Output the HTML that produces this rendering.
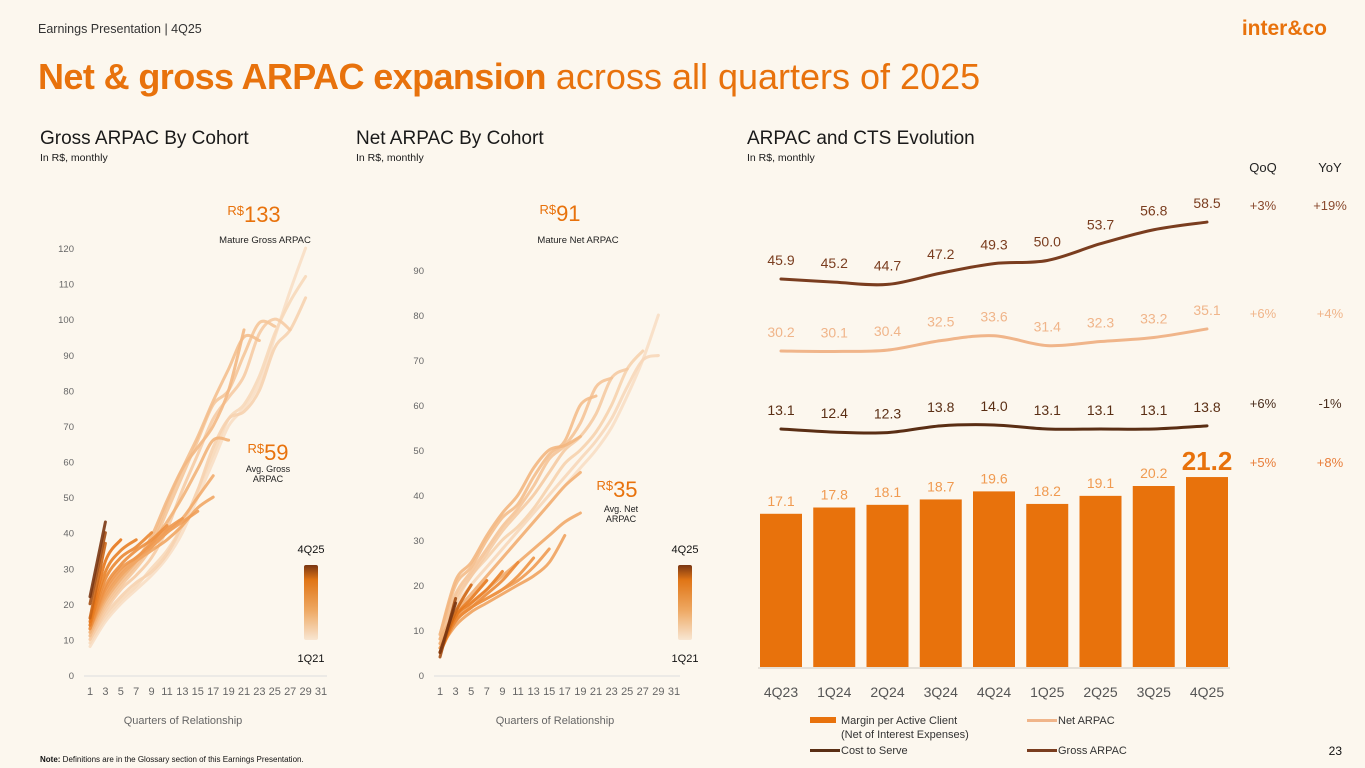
<!DOCTYPE html>
<html><head><meta charset="utf-8">
<style>
html,body{margin:0;padding:0;background:#fcf7ee;}
svg{display:block;font-family:"Liberation Sans",sans-serif;}
</style></head>
<body>
<svg id="page" width="1365" height="768" viewBox="0 0 1365 768" xmlns="http://www.w3.org/2000/svg">
<rect width="1365" height="768" fill="#fcf7ee"/>
<defs>
<linearGradient id="cg" x1="0" y1="0" x2="0" y2="1">
<stop offset="0" stop-color="#7a3612"/><stop offset="0.2" stop-color="#e07516"/><stop offset="0.6" stop-color="#eea862"/><stop offset="1" stop-color="#f8e6d2"/>
</linearGradient>
</defs>
<text x="38" y="33" font-size="12.5" fill="#333">Earnings Presentation | 4Q25</text>
<text x="1327" y="35" font-size="21" font-weight="bold" fill="#e8720c" text-anchor="end">inter&amp;co</text>
<text x="38" y="89" font-size="36" fill="#e8720c"><tspan font-weight="bold" letter-spacing="-0.6">Net &amp; gross ARPAC expansion</tspan> across all quarters of 2025</text>

<text x="40" y="144" font-size="19" fill="#1a1a1a">Gross ARPAC By Cohort</text>
<text x="40" y="161" font-size="10.5" fill="#1a1a1a">In R$, monthly</text>
<text x="356" y="144" font-size="19" fill="#1a1a1a">Net ARPAC By Cohort</text>
<text x="356" y="161" font-size="10.5" fill="#1a1a1a">In R$, monthly</text>
<text x="747" y="144" font-size="19" fill="#1a1a1a">ARPAC and CTS Evolution</text>
<text x="747" y="161" font-size="10.5" fill="#1a1a1a">In R$, monthly</text>

<g id="gross"></g>
<g id="net"></g>
<g id="evo"></g>

<text x="254" y="222" font-size="22" fill="#e8720c" text-anchor="middle"><tspan font-size="13" dy="-7">R$</tspan><tspan dy="7">133</tspan></text>
<text x="265" y="243" font-size="9.5" fill="#222" text-anchor="middle">Mature Gross ARPAC</text>
<text x="268" y="460" font-size="22" fill="#e8720c" text-anchor="middle"><tspan font-size="13" dy="-7">R$</tspan><tspan dy="7">59</tspan></text>
<text x="268" y="472" font-size="9" fill="#222" text-anchor="middle">Avg. Gross</text>
<text x="268" y="482" font-size="9" fill="#222" text-anchor="middle">ARPAC</text>
<text x="560" y="221" font-size="22" fill="#e8720c" text-anchor="middle"><tspan font-size="13" dy="-7">R$</tspan><tspan dy="7">91</tspan></text>
<text x="578" y="243" font-size="9.5" fill="#222" text-anchor="middle">Mature Net ARPAC</text>
<text x="617" y="497" font-size="22" fill="#e8720c" text-anchor="middle"><tspan font-size="13" dy="-7">R$</tspan><tspan dy="7">35</tspan></text>
<text x="621" y="512" font-size="9" fill="#222" text-anchor="middle">Avg. Net</text>
<text x="621" y="522" font-size="9" fill="#222" text-anchor="middle">ARPAC</text>

<text x="311" y="553" font-size="11" fill="#111" text-anchor="middle">4Q25</text>
<rect x="304" y="565" width="14" height="75" rx="2" fill="url(#cg)"/>
<text x="311" y="662" font-size="11" fill="#111" text-anchor="middle">1Q21</text>
<text x="685" y="553" font-size="11" fill="#111" text-anchor="middle">4Q25</text>
<rect x="678" y="565" width="14" height="75" rx="2" fill="url(#cg)"/>
<text x="685" y="662" font-size="11" fill="#111" text-anchor="middle">1Q21</text>

<text x="183" y="724" font-size="11" fill="#666" text-anchor="middle">Quarters of Relationship</text>
<text x="555" y="724" font-size="11" fill="#666" text-anchor="middle">Quarters of Relationship</text>

<text x="1263" y="172" font-size="13" fill="#222" text-anchor="middle">QoQ</text>
<text x="1330" y="172" font-size="13" fill="#222" text-anchor="middle">YoY</text>
<g font-size="13" text-anchor="middle">
<text x="1263" y="210" fill="#8a4a2e">+3%</text>
<text x="1330" y="210" fill="#8a4a2e">+19%</text>
<text x="1263" y="318" fill="#f0b58a">+6%</text>
<text x="1330" y="318" fill="#f0b58a">+4%</text>
<text x="1263" y="408" fill="#4a2e1e">+6%</text>
<text x="1330" y="408" fill="#4a2e1e">-1%</text>
<text x="1263" y="467" fill="#e87e3a">+5%</text>
<text x="1330" y="467" fill="#e87e3a">+8%</text>
</g>

<g font-size="11" fill="#333">
<rect x="810" y="717" width="26" height="6" fill="#e8720c"/>
<text x="841" y="724">Margin per Active Client</text>
<text x="841" y="738">(Net of Interest Expenses)</text>
<rect x="1027" y="719" width="30" height="3" fill="#f0b58a"/>
<text x="1058" y="724">Net ARPAC</text>
<rect x="810" y="749" width="30" height="3" fill="#5a2e14"/>
<text x="841" y="754">Cost to Serve</text>
<rect x="1027" y="749" width="30" height="3" fill="#7a3d1f"/>
<text x="1058" y="754">Gross ARPAC</text>
</g>
<text x="1342" y="755" font-size="12" fill="#111" text-anchor="end">23</text>
<text x="40" y="762" font-size="8" fill="#111"><tspan font-weight="bold">Note:</tspan> Definitions are in the Glossary section of this Earnings Presentation.</text>
</svg>
<script>
// ---- data ----
const quarters = ["4Q23","1Q24","2Q24","3Q24","4Q24","1Q25","2Q25","3Q25","4Q25"];
const marginValues = [17.1,17.8,18.1,18.7,19.6,18.2,19.1,20.2,21.2];
const netArpac = [30.2,30.1,30.4,32.5,33.6,31.4,32.3,33.2,35.1];
const grossArpac = [45.9,45.2,44.7,47.2,49.3,50.0,53.7,56.8,58.5];
const costToServe = [13.1,12.4,12.3,13.8,14.0,13.1,13.1,13.1,13.8];
// cohort values sampled at quarters 1,3,5,... (oldest first)
const grossCohorts = [
[8,15,20,24,28,33,40,50,60,70,75,82,95,108,120],
[9,16,21,25,30,35,42,52,62,72,76,84,96,105,112],
[10,17,22,26,29,34,42,52,64,72,74,80,92,97,106],
[10,18,24,28,33,41,52,62,72,78,84,96,100,97],
[11,19,25,30,36,46,56,66,76,80,90,99,98],
[11,20,26,31,37,48,58,67,77,86,95,94],
[12,21,27,32,39,49,58,64,70,80,97],
[12,21,27,32,37,43,50,58,66,66],
[13,22,28,32,36,40,44,50,56],
[13,22,28,32,35,38,42,47,50],
[13,23,29,33,36,40,43,46],
[13,24,30,33,37,41,44],
[13,25,31,35,38,42],
[14,27,33,36,40],
[14,29,35,38],
[15,32,38],
[16,37],
[20,40],
[22,43]
];
const netCohorts = [
[6,14,18,22,26,30,34,38,42,46,50,55,62,70,80],
[7,15,20,24,28,32,36,40,44,48,52,57,64,70,71],
[7,16,22,26,30,33,37,42,47,50,54,60,68,72],
[8,17,22,27,32,36,40,45,50,53,58,66,68],
[8,18,23,28,33,37,42,48,51,56,64,66],
[9,20,24,30,35,38,44,49,52,60,62],
[9,21,25,31,36,40,46,50,51,53],
[8,14,18,22,26,30,34,38,42,45],
[7,12,16,19,22,25,28,31,34,36],
[6,11,14,16,18,20,22,25,31],
[6,12,15,17,19,21,24,28],
[5,12,15,17,19,22,26],
[5,12,15,18,21,25],
[5,13,16,19,23],
[5,13,17,21],
[5,14,20],
[4,17],
[5,16]
];
const grossTicks = [0,10,20,30,40,50,60,70,80,90,100,110,120];
const netTicks = [0,10,20,30,40,50,60,70,80,90];
const xTicks = [1,3,5,7,9,11,13,15,17,19,21,23,25,27,29,31];

const NS="http://www.w3.org/2000/svg";
function mk(tag, attrs, parent){const e=document.createElementNS(NS,tag);for(const k in attrs)e.setAttribute(k,attrs[k]);parent.appendChild(e);return e;}
function smooth(pts){
  if(pts.length===1) return "M"+pts[0][0]+","+pts[0][1]+"l0.1,0";
  let d="M"+pts[0][0]+","+pts[0][1];
  for(let i=0;i<pts.length-1;i++){
    const p0=pts[Math.max(i-1,0)],p1=pts[i],p2=pts[i+1],p3=pts[Math.min(i+2,pts.length-1)];
    const c1=[p1[0]+(p2[0]-p0[0])/6,p1[1]+(p2[1]-p0[1])/6];
    const c2=[p2[0]-(p3[0]-p1[0])/6,p2[1]-(p3[1]-p1[1])/6];
    d+="C"+c1[0]+","+c1[1]+" "+c2[0]+","+c2[1]+" "+p2[0]+","+p2[1];
  }
  return d;
}
function lerpColor(t){
  const stops=[[0,[248,222,196]],[0.55,[240,160,90]],[0.85,[230,116,22]],[1,[122,54,18]]];
  for(let i=0;i<stops.length-1;i++){
    if(t<=stops[i+1][0]){const a=stops[i],b=stops[i+1];const u=(t-a[0])/(b[0]-a[0]);
      return "rgb("+a[1].map((c,j)=>Math.round(c+(b[1][j]-c)*u)).join(",")+")";}
  }
  return "rgb(122,54,18)";
}
function cohortChart(g, cohorts, ticks, x0, x1, yBase, yTopVal, yTopPx, prefix){
  const xs=q=>x0+(q-1)*(x1-x0)/30;
  const ys=v=>yBase-(v/yTopVal)*(yBase-yTopPx);
  const ax=mk("line",{x1:x0-6,x2:x1+6,y1:yBase+1,y2:yBase+1,stroke:"#ddd","stroke-width":1},g);
  
  
  ticks.forEach(t=>{
    const tx=mk("text",{x:x0-16,y:ys(t)+4,"font-size":"9.5",fill:"#666","text-anchor":"end"},g);
    tx.textContent=t;
    
    
  });
  xTicks.forEach(q=>{
    const tx=mk("text",{x:xs(q),y:yBase+20,"font-size":"11",fill:"#666","text-anchor":"middle"},g);
    tx.textContent=q;
    
    
  });
  const n=cohorts.length;
  cohorts.forEach((vals,i)=>{
    const pts=vals.map((v,k)=>[xs(1+2*k),ys(v)]);
    const p=mk("path",{d:smooth(pts),fill:"none",stroke:lerpColor(i/(n-1)),"stroke-width":3,"stroke-linecap":"round","stroke-linejoin":"round",opacity:0.9},g);
    
    
  });
}
cohortChart(document.getElementById("gross"), grossCohorts, grossTicks, 90, 321, 675, 120, 248, "gross");
cohortChart(document.getElementById("net"), netCohorts, netTicks, 440, 674, 675, 90, 270, "net");

// evolution chart
const evo=document.getElementById("evo");
const bx=i=>781+i*53.25;
const barBase=667, barScale=8.96;
const axl=mk("line",{x1:758,x2:1230,y1:barBase+1,y2:barBase+1,stroke:"#e5e0d8","stroke-width":2},evo);


marginValues.forEach((v,i)=>{
  const h=v*barScale;
  const r=mk("rect",{x:bx(i)-21,y:barBase-h,width:42,height:h,fill:"#e8720c"},evo);
  
  
  const last=i===marginValues.length-1;
  const t=mk("text",{x:bx(i),y:barBase-h-(last?7:8),"font-size":last?"26":"14","font-weight":last?"bold":"normal",fill:last?"#e8720c":"#f09a50","text-anchor":"middle"},evo);
  t.textContent=v.toFixed(1);
  
  
  const q=mk("text",{x:bx(i),y:697,"font-size":"14",fill:"#555","text-anchor":"middle"},evo);
  q.textContent=quarters[i];
  
  
});
function evoLine(vals, base, baseY, scale, color, name){
  const ys=v=>baseY-(v-base)*scale;
  const pts=vals.map((v,i)=>[bx(i),ys(v)]);
  const p=mk("path",{d:smooth(pts),fill:"none",stroke:color,"stroke-width":3,"stroke-linecap":"round"},evo);
  
  
  vals.forEach((v,i)=>{
    const t=mk("text",{x:bx(i),y:ys(v)-14,"font-size":"14",fill:color,"text-anchor":"middle"},evo);
    t.textContent=v.toFixed(1);
    
    
  });
}
evoLine(grossArpac, 45.9, 279, 4.52, "#7a3d1f", "gross-arpac");
evoLine(netArpac, 30.2, 351, 4.5, "#f0b58a", "net-arpac");
evoLine(costToServe, 13.1, 429, 4.5, "#5a2e14", "cost-to-serve");
</script>
</body></html>
